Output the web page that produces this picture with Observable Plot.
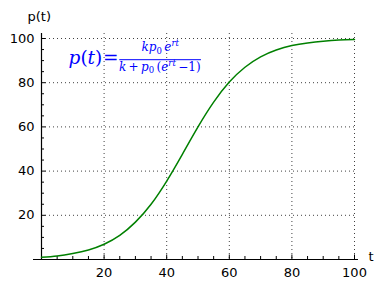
<!DOCTYPE html>
<html>
<head>
<meta charset="utf-8">
<script src="https://cdn.jsdelivr.net/npm/d3@7"></script>
<script src="https://cdn.jsdelivr.net/npm/@observablehq/plot@0.6"></script>
<style>
  html, body { margin: 0; padding: 0; background: #fff; }
</style>
</head>
<body>
<div id="chart"></div>
<script>
// Values
const tValues = [0, 5, 10, 15, 20, 25, 30, 35, 40, 45, 50, 55, 60, 65, 70, 75, 80, 85, 90, 95, 100];
const pValues = [1.0, 1.6, 2.7, 4.3, 6.9, 10.9, 16.9, 25.0, 35.5, 47.6, 60.0, 71.2, 80.3, 87.0, 91.7, 94.8, 96.8, 98.0, 98.8, 99.3, 99.5];

const xTicks = [20, 40, 60, 80, 100];
const yTicks = [20, 40, 60, 80, 100];
const xMinorTicks = [5, 10, 15, 25, 30, 35, 45, 50, 55, 65, 70, 75, 85, 90, 95];
const yMinorTicks = [5, 10, 15, 25, 30, 35, 45, 50, 55, 65, 70, 75, 85, 90, 95];

const xLabel = "t";
const yLabel = "p(t)";
const formulaAt = {t: 25, p: 90};

const data = tValues.map((t, i) => ({t, p: pValues[i]}));

const gridStyle = {stroke: "#000", strokeOpacity: 0.75, strokeDasharray: "1,3", strokeWidth: 1};

const chart = Plot.plot({
  width: 383,
  height: 285,
  marginTop: 38,
  marginBottom: 26,
  marginLeft: 41,
  marginRight: 29,
  style: {fontFamily: "DejaVu Sans, sans-serif", fontSize: "13px", background: "#fff", overflow: "visible", color: "#000"},
  x: {domain: [0, 100]},
  y: {domain: [0, 100]},
  marks: [
    Plot.ruleX(xTicks, {x: d => d, ...gridStyle, insetTop: -5}),
    Plot.ruleY(yTicks, {y: d => d, ...gridStyle}),
    // axis lines
    Plot.ruleY([0], {y: d => d, stroke: "#000", strokeWidth: 1.2, insetLeft: -8, insetRight: -4}),
    Plot.ruleX([0], {x: d => d, stroke: "#000", strokeWidth: 1.2, insetTop: -5}),
    // inward ticks
    Plot.ruleX(xTicks, {x: d => d, y1: d => 0, y2: d => 0, insetTop: -4.5, stroke: "#000"}),
    Plot.ruleX(xMinorTicks, {x: d => d, y1: d => 0, y2: d => 0, insetTop: -3, stroke: "#000"}),
    Plot.ruleY(yTicks, {y: d => d, x1: d => 0, x2: d => 0, insetRight: -4.5, stroke: "#000"}),
    Plot.ruleY(yMinorTicks, {y: d => d, x1: d => 0, x2: d => 0, insetRight: -3, stroke: "#000"}),
    Plot.axisX({ticks: xTicks, tickSize: 0, tickPadding: 8, label: null, fontSize: 13}),
    Plot.axisY({ticks: yTicks, tickSize: 0, tickPadding: 7, label: null, fontSize: 13}),
    Plot.line(data, {x: "t", y: "p", stroke: "#008000", strokeWidth: 1.5, curve: "natural"}),
    Plot.text([yLabel], {text: d => d, frameAnchor: "top-left", textAnchor: "start", lineAnchor: "middle", dx: -14, dy: -22, fontSize: 13}),
    Plot.text([xLabel], {text: d => d, frameAnchor: "bottom-right", textAnchor: "middle", lineAnchor: "middle", dx: 16.5, dy: -2.5, fontSize: 13})
  ]
});

document.getElementById("chart").appendChild(chart);

// Formula annotation (blue, math-like)
const svg = d3.select(chart);
const xs = chart.scale("x"), ys = chart.scale("y");
const bx = xs.apply(formulaAt.t), by = ys.apply(formulaAt.p);
const blue = "#0000ff";
const g = svg.append("g").attr("fill", blue).style("font-family", "'DejaVu Serif', serif");

// p(t) =
const lhs = g.append("text").attr("x", bx - 17).attr("y", by + 4).attr("text-anchor", "end").attr("font-size", 18.5);
lhs.append("tspan").attr("font-style", "italic").text("p");
lhs.append("tspan").text("(");
lhs.append("tspan").attr("font-style", "italic").text("t");
lhs.append("tspan").text(")");
g.append("text").attr("x", bx - 8.6).attr("y", by + 4).attr("text-anchor", "middle").attr("font-size", 18.5).text("=");

// fraction bar
g.append("line").attr("x1", bx).attr("x2", bx + 81.7).attr("y1", by - 0.4).attr("y2", by - 0.4).attr("stroke", blue).attr("stroke-width", 1);

// numerator: k p0 e^{rt}
const num = g.append("text").attr("x", bx + 41).attr("y", by - 8.8).attr("text-anchor", "middle").attr("font-size", 12);
num.append("tspan").attr("font-style", "italic").text("kp");
num.append("tspan").attr("font-size", 8.5).attr("dy", 2.5).text("0");
num.append("tspan").attr("font-style", "italic").attr("dy", -2.5).text("\u2009e");
num.append("tspan").attr("font-style", "italic").attr("font-size", 8.5).attr("dy", -5).text("rt");

// denominator: k + p0 (e^{rt} - 1)
const den = g.append("text").attr("x", bx + 40.5).attr("y", by + 10.5).attr("text-anchor", "middle").attr("font-size", 12);
den.append("tspan").attr("font-style", "italic").text("k");
den.append("tspan").text("\u2009+\u2009");
den.append("tspan").attr("font-style", "italic").text("p");
den.append("tspan").attr("font-size", 8.5).attr("dy", 2.5).text("0");
den.append("tspan").attr("dy", -2.5).text("\u2009(");
den.append("tspan").attr("font-style", "italic").text("e");
den.append("tspan").attr("font-style", "italic").attr("font-size", 8.5).attr("dy", -5).text("rt");
den.append("tspan").attr("dy", 5).text("\u2009\u22121)");
</script>
</body>
</html>
